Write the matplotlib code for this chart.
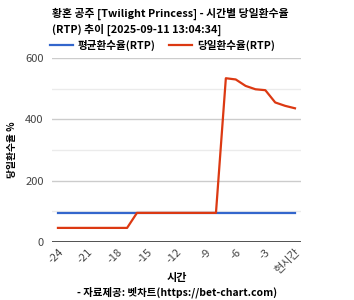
import matplotlib
matplotlib.use("Agg")
import matplotlib.pyplot as plt

plt.rcParams['font.family'] = ['Noto Sans CJK KR', 'DejaVu Sans']

hours = list(range(-24, 1))
tick_pos = [-24, -21, -18, -15, -12, -9, -6, -3, 0]
tick_labels = ['-24', '-21', '-18', '-15', '-12', '-9', '-6', '-3', '현시간']
avg_rtp = [95] * 25
today_rtp = [46, 46, 46, 46, 46, 46, 46, 46,
             95, 95, 95, 95, 95, 95, 95, 95, 95,
             534, 530, 509, 498, 495, 455, 444, 436]

fig = plt.figure(figsize=(3.54, 3.0), dpi=100)
ax = fig.add_axes([0.147, 0.1933, 0.703, 0.6134])

# grid
for v in [100, 300, 500]:
  ax.axhline(v, color='#ebebeb', lw=1, zorder=0)
for v in [200, 400, 600]:
  ax.axhline(v, color='#cccccc', lw=1, zorder=0)
ax.axhline(0, color='#333333', lw=1.2, zorder=1)

ax.plot(hours, avg_rtp, color='#3366cc', lw=1.6, label='평균환수율(RTP)', zorder=3)
ax.plot(hours, today_rtp, color='#dc3912', lw=1.6, label='당일환수율(RTP)', zorder=4)

ax.set_xlim(-24.6, 0.6)
ax.set_ylim(0, 600)
ax.set_yticks([0, 200, 400, 600])
ax.set_xticks(tick_pos)
ax.set_xticklabels(tick_labels, rotation=45, ha='right', rotation_mode='anchor')
ax.tick_params(length=0, labelsize=8, colors='#444444')
ax.tick_params(axis='y', pad=6)
for s in ax.spines.values():
  s.set_visible(False)

fig.text(0.034, 0.5, '당일환수율 %', rotation=90, ha='center', va='center', fontsize=7, fontweight='bold')
fig.text(0.5, 0.065, '시간', ha='center', fontsize=8, fontweight='bold')
fig.text(0.5, 0.015, '- 자료제공: 벳차트(https://bet-chart.com)', ha='center', fontsize=7.5, fontweight='bold')

fig.text(0.147, 0.953, '황혼 공주 [Twilight Princess] - 시간별 당일환수율',
         ha='left', va='center', fontsize=7.8, fontweight='bold')
fig.text(0.147, 0.9, '(RTP) 추이 [2025-09-11 13:04:34]',
         ha='left', va='center', fontsize=7.8, fontweight='bold')
fig.legend(loc='center left', bbox_to_anchor=(0.14, 0.85), ncol=2, frameon=False,
           handlelength=2.2, columnspacing=1.2, borderaxespad=0, borderpad=0, handletextpad=0.5,
           prop={'weight': 'bold', 'size': 7.6})

fig.savefig('out.png', dpi=100)
